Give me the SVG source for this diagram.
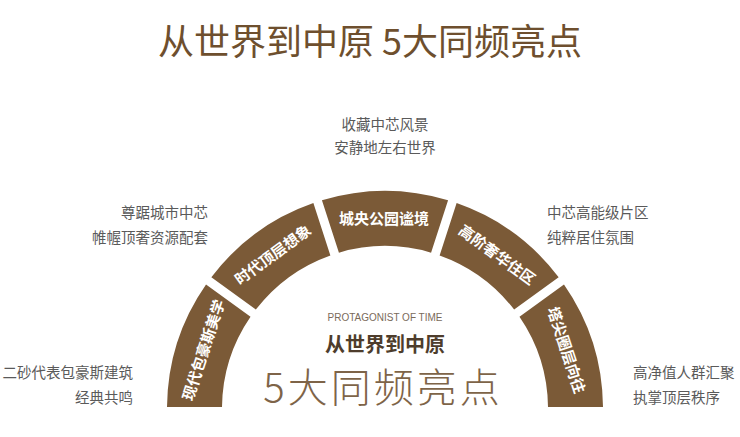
<svg xmlns="http://www.w3.org/2000/svg" width="740" height="437" viewBox="0 0 740 437">
<style>
.cjk{font-family:"Noto Sans CJK SC","Noto Sans",sans-serif}
.seg{fill:#7b5a37}
.segt{font-family:"Noto Sans CJK SC",sans-serif;font-size:15px;font-weight:700;fill:#ffffff;text-anchor:middle}
.side{font-family:"Noto Sans CJK SC",sans-serif;font-size:14.5px;fill:#5a5a5a}
</style>
<rect width="740" height="437" fill="#ffffff"/>
<text x="370" y="55" class="cjk" font-size="36" font-weight="400" fill="#6e4f2e" text-anchor="middle" xml:space="preserve">从世界到中原 5大同频亮点</text>

<g id="seg1">
<path class="seg" d="M167,407 A218,218 0 0 1 206.02,284.54 L250.52,316.87 A163,163 0 0 0 222,407 Z"/>
<text class="segt" transform="translate(203.8,350.1) rotate(-72)" dy="0.35em">现代包豪斯美学</text>
</g>
<g id="seg2">
<path class="seg" d="M211.34,277.26 A218,218 0 0 1 313.37,203.10 L330.38,255.42 A163,163 0 0 0 255.84,309.59 Z"/>
<text class="segt" transform="translate(273,254.9) rotate(-36)" dy="0.35em">时代顶层想象</text>
</g>
<g id="seg3">
<path class="seg" d="M321.93,200.33 A218,218 0 0 1 448.07,200.33 L431.06,252.65 A163,163 0 0 0 338.94,252.65 Z"/>
<text class="segt" transform="translate(384,219)" dy="0.35em">城央公园谧境</text>
</g>
<g id="seg4">
<path class="seg" d="M456.63,203.10 A218,218 0 0 1 558.66,277.26 L514.16,309.59 A163,163 0 0 0 439.62,255.42 Z"/>
<text class="segt" transform="translate(497,254.9) rotate(36)" dy="0.35em">高阶奢华住区</text>
</g>
<g id="seg5">
<path class="seg" d="M563.98,284.54 A218,218 0 0 1 603,407 L548,407 A163,163 0 0 0 519.48,316.87 Z"/>
<text class="segt" transform="translate(566.2,350.1) rotate(72)" dy="0.35em">塔尖圈层向往</text>
</g>

<g id="center">
<text x="385" y="321" font-family="Liberation Sans,sans-serif" font-size="10" fill="#7a6a5a" text-anchor="middle">PROTAGONIST OF TIME</text>
<text x="385" y="352" class="cjk" font-size="20" font-weight="700" fill="#4e3d2c" text-anchor="middle">从世界到中原</text>
<text x="383" y="402" class="cjk" font-size="40" font-weight="300" fill="#7e6448" text-anchor="middle" letter-spacing="3">5大同频亮点</text>
</g>

<g id="desc3">
<text x="385" y="130" class="side" text-anchor="middle">收藏中芯风景</text>
<text x="385" y="153" class="side" text-anchor="middle">安静地左右世界</text>
</g>
<g id="desc2">
<text x="208" y="218" class="side" text-anchor="end">尊踞城市中芯</text>
<text x="208" y="243" class="side" text-anchor="end">帷幄顶奢资源配套</text>
</g>
<g id="desc1">
<text x="133" y="378" class="side" text-anchor="end">二砂代表包豪斯建筑</text>
<text x="133" y="403" class="side" text-anchor="end">经典共鸣</text>
</g>
<g id="desc4">
<text x="547" y="218" class="side">中芯高能级片区</text>
<text x="547" y="243" class="side">纯粹居住氛围</text>
</g>
<g id="desc5">
<text x="633" y="378" class="side">高净值人群汇聚</text>
<text x="633" y="403" class="side">执掌顶层秩序</text>
</g>
<g id="connectors"></g>
</svg>
